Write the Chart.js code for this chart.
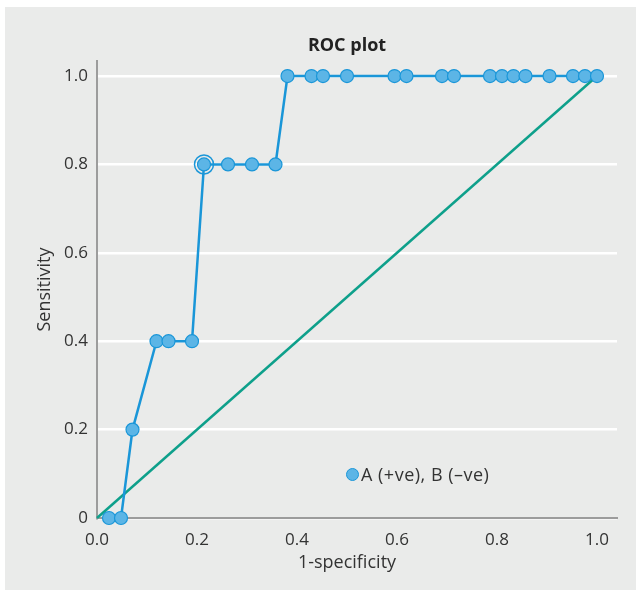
<!DOCTYPE html>
<html>
<head>
<meta charset="utf-8">
<script src="https://cdn.jsdelivr.net/npm/chart.js@4"></script>
<style>
  body { margin: 0; background: #fff; font-family: 'Open Sans', sans-serif; }
  #panel { position: absolute; left: 5px; top: 7px; width: 631px; height: 583px; background: #eaebea; }
  #panel canvas { position: absolute; left: 0; top: 0; }
  .legend { position: absolute; left: 341px; top: 455px; font-size: 18px; color: #333; display: flex; align-items: center; letter-spacing: 0.5px; }
  .legend .dot { width: 11px; height: 11px; border-radius: 50%; background: #5cb5e6; border: 1.5px solid #1a96d8; margin-right: 2px; }
</style>
</head>
<body>
<div id="panel">
  <canvas id="roc" width="631" height="583"></canvas>
  <div class="legend"><span class="dot"></span>A (+ve), B (–ve)</div>
</div>
<script>
// ROC points: 1-specificity vs sensitivity
const fpr = [0.024, 0.048, 0.071, 0.119, 0.143, 0.190, 0.214, 0.262, 0.310, 0.357,
             0.381, 0.429, 0.452, 0.500, 0.595, 0.619, 0.690, 0.714, 0.786, 0.810,
             0.833, 0.857, 0.905, 0.952, 0.976, 1.000];
const tpr = [0, 0, 0.2, 0.4, 0.4, 0.4, 0.8, 0.8, 0.8, 0.8,
             1, 1, 1, 1, 1, 1, 1, 1, 1, 1,
             1, 1, 1, 1, 1, 1];
const diagX = [0, 1];
const diagY = [0, 1];
const cutoffX = [0.214];
const cutoffY = [0.8];
const xTicks = [0, 0.2, 0.4, 0.6, 0.8, 1.0];
const yTicks = [0, 0.2, 0.4, 0.6, 0.8, 1.0];

const BLUE = '#1a96d8';
const FILL = '#5cb5e6';
const TEAL = '#0ea08b';
const FAMILY = "'Open Sans', sans-serif";
const TICK_FONT = { family: FAMILY, size: 17 };
const TITLE_FONT = { family: FAMILY, size: 18 };

// title and x-axis title are centred on the 0..1 span, not on the whole plot area
const centredTitles = {
  id: 'centredTitles',
  afterDraw(chart) {
    const ctx = chart.ctx;
    const x = chart.scales.x;
    const mid = x.getPixelForValue(0.5);
    ctx.save();
    ctx.textAlign = 'center';
    ctx.textBaseline = 'middle';
    ctx.fillStyle = '#222';
    ctx.font = 'bold 18px ' + FAMILY;
    ctx.fillText('ROC plot', mid, 39);
    ctx.fillStyle = '#333';
    ctx.font = '18px ' + FAMILY;
    ctx.fillText('1-specificity', mid, x.bottom - 27);
    ctx.restore();
  }
};

new Chart(document.getElementById('roc'), {
  type: 'scatter',
  data: {
    datasets: [
      {
        label: 'cutoff',
        data: cutoffX.map((x, i) => ({ x, y: cutoffY[i] })),
        showLine: false,
        pointRadius: 9.5,
        pointBackgroundColor: 'rgba(0,0,0,0)',
        pointBorderColor: BLUE,
        pointBorderWidth: 1.5,
        clip: false
      },
      {
        label: 'A (+ve), B (–ve)',
        data: fpr.map((x, i) => ({ x, y: tpr[i] })),
        showLine: true,
        borderColor: BLUE,
        borderWidth: 2.5,
        pointRadius: 6.5,
        pointBackgroundColor: FILL,
        pointBorderColor: BLUE,
        pointBorderWidth: 1.2,
        clip: false
      },
      {
        label: 'reference',
        data: diagX.map((x, i) => ({ x, y: diagY[i] })),
        showLine: true,
        borderColor: TEAL,
        borderWidth: 2.5,
        pointRadius: 0,
        clip: false
      }
    ]
  },
  options: {
    responsive: false,
    animation: false,
    layout: { padding: { left: 0, right: 19, top: 54, bottom: 0 } },
    plugins: {
      legend: { display: false },
      tooltip: { enabled: false },
      title: { display: false }
    },
    scales: {
      x: {
        type: 'linear',
        min: 0,
        max: 1.04,
        afterBuildTicks: s => { s.ticks = xTicks.map(v => ({ value: v })); },
        afterFit: s => { s.height = 72; },
        grid: { display: false, drawTicks: false },
        border: { display: true, color: '#9c9c9c', width: 2 },
        ticks: { color: '#333', font: TICK_FONT, padding: 12, maxRotation: 0,
                 callback: v => v.toFixed(1) }
      },
      y: {
        type: 'linear',
        min: 0,
        max: 1.034,
        afterBuildTicks: s => { s.ticks = yTicks.map(v => ({ value: v })); },
        afterFit: s => { s.width = 92; },
        grid: { color: '#ffffff', lineWidth: 2.5, drawTicks: false },
        border: { display: true, color: '#9c9c9c', width: 2 },
        ticks: { color: '#333', font: TICK_FONT, padding: 9,
                 callback: v => v === 0 ? '0' : v.toFixed(1) },
        title: { display: true, text: 'Sensitivity', color: '#333', font: TITLE_FONT,
                 padding: { top: 29, bottom: 0 } }
      }
    }
  },
  plugins: [centredTitles]
});
</script>
</body>
</html>
